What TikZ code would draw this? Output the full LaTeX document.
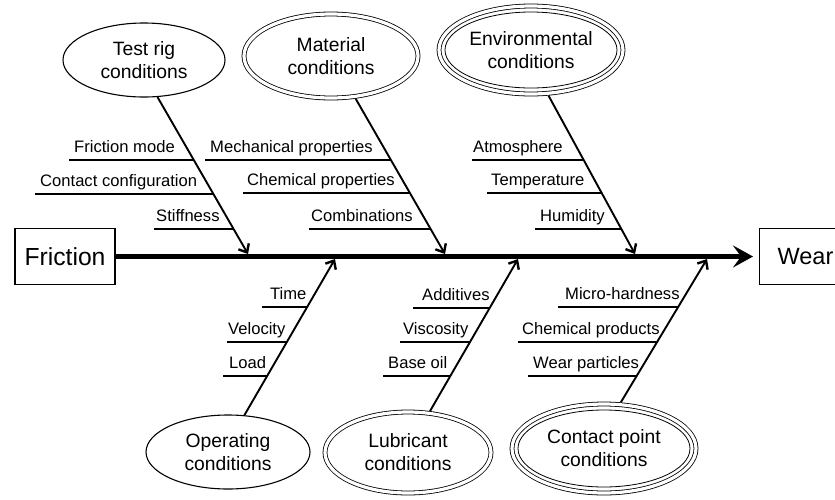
\documentclass[tikz,border=0pt]{standalone}
\usepackage{fontspec}
\setmainfont{Liberation Sans}
\usetikzlibrary{arrows.meta,shapes.geometric}
\begin{document}
\begin{tikzpicture}[x=1pt,y=-1pt,
  cause/.style={ellipse, draw, line width=1.1pt, inner sep=0pt, align=center,
    font=\fontsize{19.3}{23}\selectfont},
  causeD/.style={cause, double, double distance=3.2pt, line width=0.8pt, outer sep=2.4pt},
  endbox/.style={rectangle, draw, line width=1.2pt, minimum height=56pt},
  bone/.style={line width=1.9pt, -{Straight Barb[length=7pt,width=12pt,line width=2.4pt]}},
  tick/.style={line width=1.9pt},
  item/.style={anchor=base west, inner sep=0pt, font=\fontsize{16.6}{20}\selectfont},
  spine/.style={line width=5pt, -{Stealth[length=20pt,width=22pt,inset=8pt]}, shorten >=6pt}
]
\useasboundingbox (0,0) rectangle (835,499);

% effect boxes and main spine
\node[endbox, minimum width=100pt, font=\fontsize{24.7}{28}\selectfont] (friction) at (65,256.5) {Friction};
\node[endbox, anchor=west, inner xsep=18pt, font=\fontsize{23.5}{28}\selectfont] (wear) at (759,256.5) {Wear};
\draw[spine] (friction) -- (wear);

% cause groups
\node[cause, minimum width=162pt, minimum height=74pt] (testrig) at (144,60) {Test rig\\conditions};
\node[causeD, minimum width=174pt, minimum height=84pt] (material) at (331,56) {Material\\conditions};
\node[causeD, minimum width=184pt, minimum height=88pt] (environ) at (531,50) {Environmental\\conditions};
\draw[line width=0.8pt] (environ.center) ellipse [x radius=86pt, y radius=38pt];

\node[cause, minimum width=164pt, minimum height=74pt] (operating) at (228,452) {Operating\\conditions};
\node[causeD, minimum width=166pt, minimum height=81pt] (lubricant) at (408,452.5) {Lubricant\\conditions};
\node[causeD, minimum width=184pt, minimum height=89pt] (contact) at (604,448.5) {Contact point\\conditions};
\draw[line width=0.8pt] (contact.center) ellipse [x radius=86pt, y radius=38.5pt];

% bone ends
\coordinate (trA) at (testrig.-70.6);   \coordinate (trB) at (248,254);
\coordinate (maA) at (material.-60.5);  \coordinate (maB) at (445,254);
\coordinate (enA) at (environ.-69.4);   \coordinate (enB) at (635,254);
\coordinate (opA) at (operating.66.8);  \coordinate (opB) at (335,259);
\coordinate (luA) at (lubricant.62.6);  \coordinate (luB) at (518,259);
\coordinate (coA) at (contact.70.6);    \coordinate (coB) at (707,259);

\draw[bone] (trA) -- (trB);
\draw[bone] (maA) -- (maB);
\draw[bone] (enA) -- (enB);
\draw[bone] (opA) -- (opB);
\draw[bone] (luA) -- (luB);
\draw[bone] (coA) -- (coB);

% test rig conditions
\node[item] (fm) at (74,152) {Friction mode};
\node[item] (cc) at (40,186.5) {Contact configuration};
\node[item] (st) at (156,221.5) {Stiffness};
\draw[tick] (69,160) -- (intersection of trA--trB and 0,160--1,160);
\draw[tick] (35,194) -- (intersection of trA--trB and 0,194--1,194);
\draw[tick] (154,229) -- (intersection of trA--trB and 0,229--1,229);

% material conditions
\node[item] (mp) at (210,152) {Mechanical properties};
\node[item] (cp) at (247,185.5) {Chemical properties};
\node[item] (cb) at (311,221.5) {Combinations};
\draw[tick] (205,160) -- (intersection of maA--maB and 0,160--1,160);
\draw[tick] (243,193) -- (intersection of maA--maB and 0,193--1,193);
\draw[tick] (309,229) -- (intersection of maA--maB and 0,229--1,229);

% environmental conditions
\node[item] (at) at (473,152) {Atmosphere};
\node[item] (te) at (491,185.5) {Temperature};
\node[item] (hu) at (540,221.5) {Humidity};
\draw[tick] (472,160) -- (intersection of enA--enB and 0,160--1,160);
\draw[tick] (487,193) -- (intersection of enA--enB and 0,193--1,193);
\draw[tick] (535,229) -- (intersection of enA--enB and 0,229--1,229);

% operating conditions
\node[item] (ti) at (270,299.5) {Time};
\node[item] (ve) at (228,334.5) {Velocity};
\node[item] (lo) at (229,368.5) {Load};
\draw[tick] (262,307) -- (intersection of opA--opB and 0,307--1,307);
\draw[tick] (227,342) -- (intersection of opA--opB and 0,342--1,342);
\draw[tick] (223,376) -- (intersection of opA--opB and 0,376--1,376);

% lubricant conditions
\node[item] (ad) at (422,300.5) {Additives};
\node[item] (vi) at (403,334.5) {Viscosity};
\node[item] (bo) at (388,368.5) {Base oil};
\draw[tick] (413,308) -- (intersection of luA--luB and 0,308--1,308);
\draw[tick] (400,342) -- (intersection of luA--luB and 0,342--1,342);
\draw[tick] (383,376) -- (intersection of luA--luB and 0,376--1,376);

% contact point conditions
\node[item] (mh) at (565,299.5) {Micro-hardness};
\node[item] (cpr) at (522,334.5) {Chemical products};
\node[item] (wp) at (533,368.5) {Wear particles};
\draw[tick] (558,307) -- (intersection of coA--coB and 0,307--1,307);
\draw[tick] (518,342) -- (intersection of coA--coB and 0,342--1,342);
\draw[tick] (528,376) -- (intersection of coA--coB and 0,376--1,376);
\end{tikzpicture}
\end{document}
